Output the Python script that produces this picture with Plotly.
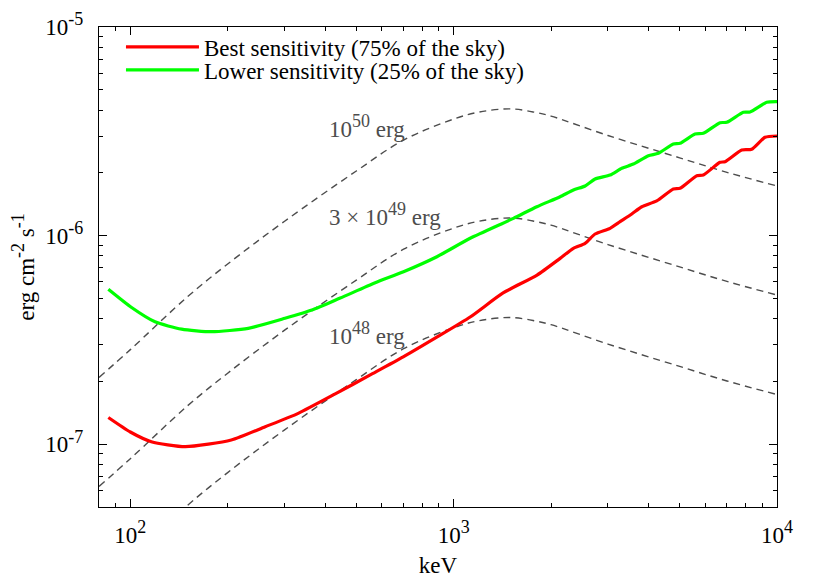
import math
import plotly.graph_objects as go

# ---------------- data ----------------
best_energy = [85.5, 100, 116.1, 147.9, 205.2, 261.4, 330.6, 430.3, 552.0, 698.2, 889.3,
               1124.6, 1422, 1811, 2134, 2346, 2550, 2737, 3046, 3271, 3555, 3818,
               4247, 4779, 5013, 5648, 5918, 6665, 6908, 7780, 8351, 9182, 10000]
best_flux = [1.343e-7, 1.144e-7, 1.028e-7, 9.73e-8, 1.047e-7, 1.213e-7, 1.406e-7, 1.742e-7,
             2.148e-7, 2.62e-7, 3.266e-7, 4.07e-7, 5.31e-7, 6.47e-7, 7.78e-7, 8.69e-7,
             9.18e-7, 1.018e-6, 1.084e-6, 1.166e-6, 1.269e-6, 1.375e-6, 1.466e-6, 1.673e-6,
             1.685e-6, 1.937e-6, 1.952e-6, 2.246e-6, 2.261e-6, 2.573e-6, 2.593e-6, 2.959e-6,
             3.003e-6]

lower_energy = [85.5, 100.9, 119.2, 144.1, 178.4, 231.6, 300.8, 364.5, 445.8, 571.9, 699.7,
                887.4, 1124.6, 1530, 1808, 2134, 2346, 2550, 2737, 3046, 3311, 3596, 4002,
                4297, 4779, 5013, 5579, 5918, 6665, 6991, 7868, 8252, 9295, 10000]
lower_flux = [5.53e-7, 4.52e-7, 3.86e-7, 3.56e-7, 3.462e-7, 3.594e-7, 4.014e-7, 4.398e-7,
              5.02e-7, 5.94e-7, 6.71e-7, 7.92e-7, 9.71e-7, 1.210e-6, 1.375e-6, 1.536e-6,
              1.654e-6, 1.729e-6, 1.867e-6, 1.952e-6, 2.102e-6, 2.204e-6, 2.415e-6, 2.480e-6,
              2.749e-6, 2.770e-6, 3.069e-6, 3.093e-6, 3.476e-6, 3.492e-6, 3.900e-6, 3.913e-6,
              4.355e-6, 4.385e-6]

grb_energy = [80, 100, 150, 200, 300, 500, 700, 1000, 1200, 1500, 1800, 2000, 3000, 5000,
              7000, 10000]
grb_1e50 = [2.09e-7, 2.84e-7, 5.08e-7, 7.31e-7, 1.172e-6, 2.04e-6, 2.87e-6, 3.62e-6, 3.91e-6,
            4.05e-6, 3.89e-6, 3.74e-6, 3.02e-6, 2.36e-6, 2.01e-6, 1.73e-6]
grb_3e49 = [6.27e-8, 8.52e-8, 1.524e-7, 2.19e-7, 3.52e-7, 6.12e-7, 8.61e-7, 1.086e-6, 1.173e-6,
            1.215e-6, 1.167e-6, 1.122e-6, 9.06e-7, 7.08e-7, 6.03e-7, 5.19e-7]
grb_1e48 = [2.09e-8, 2.84e-8, 5.08e-8, 7.31e-8, 1.172e-7, 2.04e-7, 2.87e-7, 3.62e-7, 3.91e-7,
            4.05e-7, 3.89e-7, 3.74e-7, 3.02e-7, 2.36e-7, 2.01e-7, 1.73e-7]

FONT = "Liberation Serif, Times New Roman, serif"
FS = 23
SUP = '<sup><span style="font-size:18px">{}</span></sup>'


def power(base, exp):
    return base + SUP.format(exp)


x_tickvals = [100, 1000, 10000]
x_ticktext = [power("10", "2"), power("10", "3"), power("10", "4")]
y_tickvals = [1e-7, 1e-6, 1e-5]
y_ticktext = [power("10", "-7"), power("10", "-6"), power("10", "-5")]

curve_labels = [power("10", "50") + " erg", "3 × " + power("10", "49") + " erg",
                power("10", "48") + " erg"]
label_energy = [406, 406, 406]
label_flux = [3.32e-6, 1.256e-6, 3.41e-7]

GREY = "#4d4d4d"

fig = go.Figure()

for ys in (grb_1e50, grb_3e49, grb_1e48):
    fig.add_trace(go.Scatter(x=grb_energy, y=ys, mode="lines", showlegend=False,
                             line=dict(color=GREY, width=1.4, dash="7px,5px", shape="spline",
                                       smoothing=1.0),
                             hoverinfo="skip"))

fig.add_trace(go.Scatter(x=best_energy, y=best_flux, mode="lines",
                         name="Best sensitivity (75% of the sky)", legend="legend",
                         line=dict(color="#ff0000", width=3.2, shape="spline", smoothing=0.6)))
fig.add_trace(go.Scatter(x=lower_energy, y=lower_flux, mode="lines",
                         name="Lower sensitivity (25% of the sky)", legend="legend2",
                         line=dict(color="#00ff00", width=3.2, shape="spline", smoothing=0.6)))

for txt, xv, yv in zip(curve_labels, label_energy, label_flux):
    fig.add_annotation(x=math.log10(xv), y=math.log10(yv), text=txt, showarrow=False,
                       xref="x", yref="y", xanchor="left", yanchor="middle",
                       font=dict(family=FONT, size=FS, color=GREY))

axis_common = dict(
    type="log", showgrid=False, zeroline=False,
    showline=True, linecolor="black", linewidth=1.2, mirror="allticks",
    ticks="inside", ticklen=8, tickwidth=1, tickcolor="black",
    tickfont=dict(family=FONT, size=FS, color="black"),
    minor=dict(ticks="inside", ticklen=4, tickwidth=1, tickcolor="black", dtick="D1",
               showgrid=False),
)

fig.update_xaxes(**axis_common, range=[1.90309, 4], tickmode="array",
                 tickvals=x_tickvals, ticktext=x_ticktext, ticklabelstandoff=7,
                 title=dict(text="keV", font=dict(family=FONT, size=FS, color="black"),
                            standoff=10))
fig.update_yaxes(**axis_common, range=[-7.30103, -5], tickmode="array",
                 tickvals=y_tickvals, ticktext=y_ticktext, ticklabelstandoff=10,
                 title=dict(text="erg cm" + SUP.format("-2") + " s" + SUP.format("-1"),
                            font=dict(family=FONT, size=FS, color="black"), standoff=12))

legend_common = dict(xanchor="left", yanchor="middle", bgcolor="rgba(0,0,0,0)",
                     itemwidth=73, font=dict(family=FONT, size=FS, color="black"))

fig.update_layout(
    width=822, height=573,
    margin=dict(l=91, r=53, t=19, b=74, autoexpand=False),
    plot_bgcolor="white", paper_bgcolor="white",
    font=dict(family=FONT, size=FS, color="black"),
    legend=dict(x=0.0324, y=0.9583, **legend_common),
    legend2=dict(x=0.0324, y=0.9104, **legend_common),
)

fig.write_html("out.html")
